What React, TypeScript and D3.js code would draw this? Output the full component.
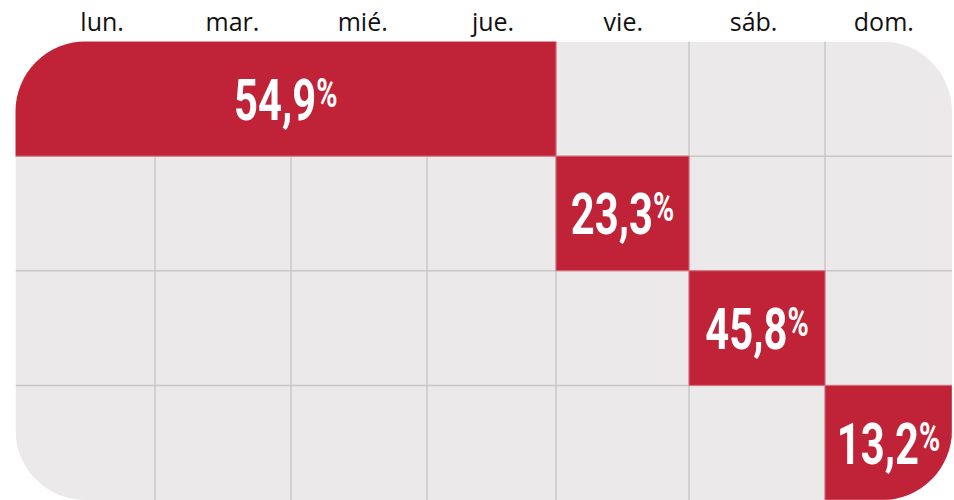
import React from "react";
import * as d3 from "d3";

const days = ["lun.", "mar.", "mié.", "jue.", "vie.", "sáb.", "dom."];
const rows = ["r1", "r2", "r3", "r4"];
const values = [54.9, 23.3, 45.8, 13.2];
const startDay = ["lun.", "vie.", "sáb.", "dom."];
const endDay = ["jue.", "vie.", "sáb.", "dom."];

const W = 954;
const H = 500;
const RED = "#c02338";
const GREY = "#ebe9ea";
const LINE = "#c8c8c8";

const locale = d3.formatLocale({ decimal: ",", thousands: ".", grouping: [3], currency: ["", "€"] });
const fmt = locale.format(".1f");

export default function App() {
  // column edges of the grid (slightly uneven in the source)
  const colEdge = d3
    .scaleLinear()
    .domain(d3.range(8))
    .range([15.5, 155, 291, 427, 556, 689, 825, 952]);
  const colIdx = (d: string) => days.indexOf(d);
  const y = d3.scaleBand().domain(rows).range([41.5, 500]).padding(0);
  const header = d3.scaleBand().domain(days).range([37, 949]);

  const left = colEdge(0);
  const right = colEdge(7);
  const top = y.range()[0];
  const bottom = y.range()[1];

  return (
    <div style={{ position: "absolute", left: 0, top: 0 }}>
      <svg width={W} height={H} style={{ display: "block" }}>
        <defs>
          <clipPath id="grid-clip">
            <rect x={left} y={top} width={right - left} height={bottom - top} rx={70} ry={70} />
          </clipPath>
        </defs>
        {days.map((d) => (
          <text
            key={d}
            x={(header(d) as number) + header.bandwidth() / 2}
            y={31}
            textAnchor="middle"
            fontFamily="'Open Sans', sans-serif"
            fontSize={25}
            fill="#111"
          >
            {d}
          </text>
        ))}
        <g clipPath="url(#grid-clip)">
          <rect x={left} y={top} width={right - left} height={bottom - top} fill={GREY} />
          {d3.range(1, 7).map((i) => (
            <line key={"v" + i} x1={colEdge(i)} x2={colEdge(i)} y1={top} y2={bottom} stroke={LINE} strokeWidth={1.5} />
          ))}
          {rows.slice(1).map((r) => (
            <line key={"h" + r} x1={left} x2={right} y1={y(r)} y2={y(r)} stroke={LINE} strokeWidth={1.5} />
          ))}
          {values.map((v, i) => {
            const x0 = colEdge(colIdx(startDay[i]));
            const x1 = colEdge(colIdx(endDay[i]) + 1);
            const y0 = y(rows[i]) as number;
            return (
              <rect
                key={"c" + i}
                x={x0}
                y={y0}
                width={x1 - x0}
                height={y.bandwidth()}
                fill={RED}
                stroke="#dc6b7c"
                strokeWidth={1}
              />
            );
          })}
        </g>
        {values.map((v, i) => {
          const x0 = colEdge(colIdx(startDay[i]));
          const x1 = colEdge(colIdx(endDay[i]) + 1);
          const cy = (y(rows[i]) as number) + y.bandwidth() / 2;
          const cx = (x0 + x1) / 2;
          return (
            <text
              key={"t" + i}
              transform={`translate(${cx},${cy + 21}) scale(0.72,1)`}
              textAnchor="middle"
              fontFamily="Roboto, sans-serif"
              fontWeight={700}
              fontSize={58}
              fill="#fff"
            >
              {fmt(v)}
              <tspan fontSize={40} dy={-13}>%</tspan>
            </text>
          );
        })}
      </svg>
    </div>
  );
}
